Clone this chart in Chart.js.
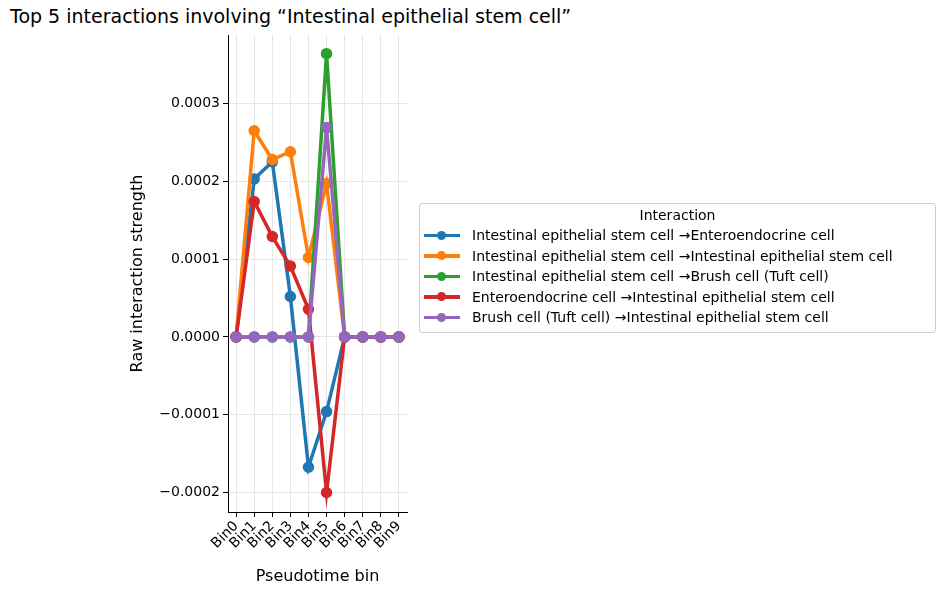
<!DOCTYPE html>
<html>
<head>
<meta charset="utf-8">
<script src="https://cdn.jsdelivr.net/npm/chart.js@4"></script>
<style>
  body { margin: 0; background: #fff; font-family: "DejaVu Sans", sans-serif; }
  #wrap { position: relative; width: 946px; height: 590px; }
  #title { position: absolute; left: 10px; top: 5px; font-size: 19px; color: #000; white-space: nowrap; }
  #legend { position: absolute; left: 419px; top: 203px; width: 515px; border: 1px solid #d0d0d0; border-radius: 3px; padding: 3px 0 4px 0; font-size: 14px; }
  #legend .head { text-align: center; margin-bottom: 2px; }
  #legend .row { display: flex; align-items: center; height: 20.5px; padding-left: 4px; }
  #legend .sw { position: relative; width: 36px; height: 3.5px; margin-right: 12px; }
  #legend .sw i { position: absolute; left: 13px; top: -3px; width: 9px; height: 9px; border-radius: 50%; }
  canvas { position: absolute; left: 0; top: 0; }
</style>
</head>
<body>
<div id="wrap">
  <div id="title">Top 5 interactions involving “Intestinal epithelial stem cell”</div>
  <canvas id="chart" width="946" height="590"></canvas>
  <div id="legend"><div class="head">Interaction</div></div>
</div>
<script>
const bins = ["Bin0", "Bin1", "Bin2", "Bin3", "Bin4", "Bin5", "Bin6", "Bin7", "Bin8", "Bin9"];
const seriesNames = [
  "Intestinal epithelial stem cell →Enteroendocrine cell",
  "Intestinal epithelial stem cell →Intestinal epithelial stem cell",
  "Intestinal epithelial stem cell →Brush cell (Tuft cell)",
  "Enteroendocrine cell →Intestinal epithelial stem cell",
  "Brush cell (Tuft cell) →Intestinal epithelial stem cell"
];
const seriesColors = ["#1f77b4", "#ff7f0e", "#2ca02c", "#d62728", "#9467bd"];
const stemToEntero = [0, 2.03e-4, 2.25e-4, 0.52e-4, -1.675e-4, -0.96e-4, 0, 0, 0, 0];
const stemToStem = [0, 2.65e-4, 2.28e-4, 2.38e-4, 1.02e-4, 1.97e-4, 0, 0, 0, 0];
const stemToBrush = [0, 0, 0, 0, 0, 3.64e-4, 0, 0, 0, 0];
const enteroToStem = [0, 1.74e-4, 1.29e-4, 0.91e-4, 0.355e-4, -2.0e-4, 0, 0, 0, 0];
const brushToStem = [0, 0, 0, 0, 0, 2.69e-4, 0, 0, 0, 0];
const yTicks = [-2e-4, -1e-4, 0, 1e-4, 2e-4, 3e-4];

const allSeries = [stemToEntero, stemToStem, stemToBrush, enteroToStem, brushToStem];
const font = { family: "DejaVu Sans", size: 14 };

new Chart(document.getElementById("chart"), {
  type: "line",
  data: {
    datasets: allSeries.map((vals, i) => ({
      label: seriesNames[i],
      data: vals.map((v, j) => ({ x: j, y: v })),
      borderColor: seriesColors[i],
      backgroundColor: seriesColors[i],
      borderWidth: 3.5,
      pointRadius: 4,
      pointHoverRadius: 4,
      tension: 0,
      order: allSeries.length - 1 - i
    }))
  },
  options: {
    responsive: false,
    animation: false,
    layout: { padding: { top: 35, right: 539, left: 124, bottom: 0 } },
    plugins: { legend: { display: false }, tooltip: { enabled: false } },
    scales: {
      x: {
        type: "linear",
        min: -0.45,
        max: 9.45,
        afterBuildTicks: (axis) => { axis.ticks = bins.map((b, i) => ({ value: i })); },
        afterFit: (axis) => { axis.height = 78; },
        ticks: {
          callback: (v) => bins[v],
          autoSkip: false,
          minRotation: 45,
          maxRotation: 45,
          padding: 1,
          color: "#000",
          font: font
        },
        grid: { color: "#e6e6e6", tickColor: "#000", tickLength: 5 },
        border: { color: "#000", width: 1 },
        title: { display: true, text: "Pseudotime bin", color: "#000", font: { family: "DejaVu Sans", size: 16 }, padding: { top: 0 } }
      },
      y: {
        min: -2.25e-4,
        max: 3.88e-4,
        afterBuildTicks: (axis) => { axis.ticks = yTicks.map((v) => ({ value: v })); },
        afterFit: (axis) => { axis.width = 104; },
        ticks: {
          callback: (v) => (v < 0 ? "\u2212" : "") + Math.abs(v).toFixed(4),
          color: "#000",
          font: font
        },
        grid: { color: "#e6e6e6", tickColor: "#000", tickLength: 5 },
        border: { color: "#000", width: 1 },
        title: { display: true, text: "Raw interaction strength", color: "#000", font: { family: "DejaVu Sans", size: 16 }, padding: { bottom: 4 } }
      }
    }
  }
});

const legend = document.getElementById("legend");
seriesNames.forEach((name, i) => {
  const row = document.createElement("div");
  row.className = "row";
  row.innerHTML = `<span class="sw" style="background:${seriesColors[i]}"><i style="background:${seriesColors[i]}"></i></span><span>${name}</span>`;
  legend.appendChild(row);
});
</script>
</body>
</html>
